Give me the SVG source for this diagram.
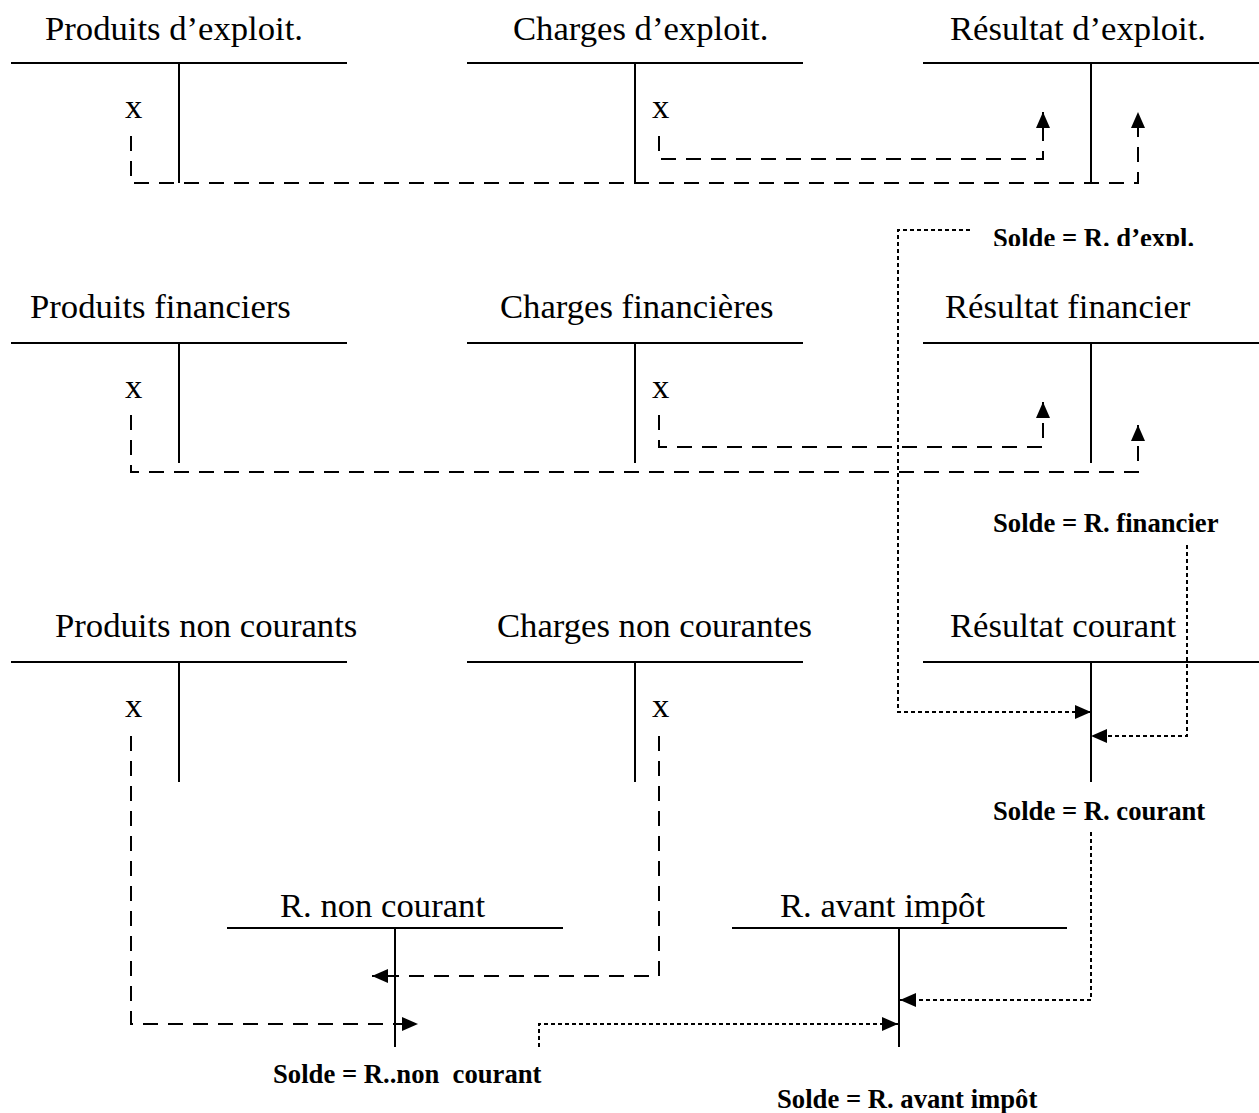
<svg xmlns="http://www.w3.org/2000/svg" width="1259" height="1113" viewBox="0 0 1259 1113">
<style>
.t { font-family: "Liberation Serif", "Times New Roman", serif; font-size: 34.67px; fill: #000; }
.b { font-family: "Liberation Serif", "Times New Roman", serif; font-weight: bold; font-size: 26.67px; fill: #000; white-space: pre; }
.ln { stroke: #000; stroke-width: 2; fill: none; }
.dash { stroke: #000; stroke-width: 2; fill: none; stroke-dasharray: 15 10; }
.dot { stroke: #000; stroke-width: 2; fill: none; stroke-dasharray: 4 3; }
</style>
<defs>
<marker id="ah" markerUnits="userSpaceOnUse" markerWidth="16" markerHeight="14" refX="16" refY="7" orient="auto">
<path d="M0,0 L16,7 L0,14 z" fill="#000"/>
</marker>
<clipPath id="clipExpl"><rect x="980" y="200" width="260" height="46"/></clipPath>
</defs>
<rect width="1259" height="1113" fill="#fff"/>

<g id="prod-expl">
<text class="t" x="45" y="40">Produits d’exploit.</text>
<path class="ln" d="M11,63 H347 M179,63 V183"/>
<text class="t" x="125" y="118">x</text>
</g>
<g id="chg-expl">
<text class="t" x="513" y="40">Charges d’exploit.</text>
<path class="ln" d="M467,63 H803 M635,63 V183"/>
<text class="t" x="652" y="118">x</text>
</g>
<g id="res-expl">
<text class="t" x="950" y="40">Résultat d’exploit.</text>
<path class="ln" d="M923,63 H1259 M1091,63 V183"/>
</g>

<g id="prod-fin">
<text class="t" x="30" y="318">Produits financiers</text>
<path class="ln" d="M11,343 H347 M179,343 V463"/>
<text class="t" x="125" y="398">x</text>
</g>
<g id="chg-fin">
<text class="t" x="500" y="318">Charges financières</text>
<path class="ln" d="M467,343 H803 M635,343 V463"/>
<text class="t" x="652" y="398">x</text>
</g>
<g id="res-fin">
<text class="t" x="945" y="318">Résultat financier</text>
<path class="ln" d="M923,343 H1259 M1091,343 V463"/>
</g>

<g id="prod-nc">
<text class="t" x="55" y="637">Produits non courants</text>
<path class="ln" d="M11,662 H347 M179,662 V782"/>
<text class="t" x="125" y="717">x</text>
</g>
<g id="chg-nc">
<text class="t" x="497" y="637">Charges non courantes</text>
<path class="ln" d="M467,662 H803 M635,662 V782"/>
<text class="t" x="652" y="717">x</text>
</g>
<g id="res-cour">
<text class="t" x="950" y="637">Résultat courant</text>
<path class="ln" d="M923,662 H1259 M1091,662 V782"/>
</g>

<g id="r-nc">
<text class="t" x="280" y="917">R. non courant</text>
<path class="ln" d="M227,928 H563 M395,928 V1047"/>
</g>
<g id="r-ai">
<text class="t" x="780" y="917">R. avant impôt</text>
<path class="ln" d="M732,928 H1067 M899,928 V1047"/>
</g>

<g id="labels">
<text class="b" x="993" y="247" clip-path="url(#clipExpl)">Solde = R. d’expl.</text>
<text class="b" x="993" y="532">Solde = R. financier</text>
<text class="b" x="993" y="820">Solde = R. courant</text>
<text class="b" x="273" y="1083">Solde = R..non  courant</text>
<text class="b" x="777" y="1108">Solde = R. avant impôt</text>
</g>

<g id="connectors">
<path class="dash" d="M131,136 V183 H1138 V112" marker-end="url(#ah)"/>
<path class="dash" d="M659,136 V159 H1043 V112" marker-end="url(#ah)"/>
<path class="dash" d="M131,415 V472 H1138 V425" marker-end="url(#ah)"/>
<path class="dash" d="M659,415 V447 H1043 V402" marker-end="url(#ah)"/>
<path class="dash" d="M131,736 V1024 H418" marker-end="url(#ah)"/>
<path class="dash" d="M659,736 V976 H372" marker-end="url(#ah)"/>
<path class="dot" d="M970,230 H898 V712 H1091" marker-end="url(#ah)"/>
<path class="dot" d="M1187,545 V736 H1091" marker-end="url(#ah)"/>
<path class="dot" d="M1091,832 V1000 H900" marker-end="url(#ah)"/>
<path class="dot" d="M539,1047 V1024 H898" marker-end="url(#ah)"/>
</g>
</svg>
